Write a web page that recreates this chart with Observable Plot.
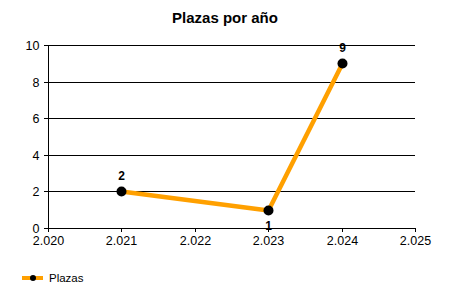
<!DOCTYPE html>
<html>
<head>
<meta charset="utf-8">
<script src="https://cdn.jsdelivr.net/npm/d3@7"></script>
<script src="https://cdn.jsdelivr.net/npm/@observablehq/plot@0.6"></script>
<style>
  html, body { margin: 0; padding: 0; background: #fff; width: 450px; height: 300px; overflow: hidden; font-family: "Liberation Sans", Arial, sans-serif; }
  #title { height: 30px; line-height: 36px; text-align: center; font-weight: bold; font-size: 15px; color: #000; }
  #legend { position: absolute; left: 0; top: 268px; height: 20px; }
</style>
</head>
<body>
<div id="title">Plazas por año</div>
<div id="chart"></div>
<div id="legend"></div>
<script>
const years = [2021, 2023, 2024];
const plazas = [2, 1, 9];
const xTicks = [2020, 2021, 2022, 2023, 2024, 2025];
const xTickLabels = ["2.020", "2.021", "2.022", "2.023", "2.024", "2.025"];
const yTicks = [0, 2, 4, 6, 8, 10];
const seriesName = "Plazas";

const data = years.map((y, i) => ({year: y, value: plazas[i], label: String(plazas[i])}));
const isBelow = (d, i) => i > 0 && i < plazas.length - 1 && d.value < plazas[i - 1] && d.value < plazas[i + 1];
const above = data.filter((d, i) => !isBelow(d, i));
const below = data.filter((d, i) => isBelow(d, i));

const lineColor = "#FFA000";

const chart = Plot.plot({
  width: 450,
  height: 232,
  marginLeft: 48,
  marginRight: 35,
  marginTop: 15,
  marginBottom: 34,
  style: {fontFamily: "'Liberation Sans', Arial, sans-serif", fontSize: "12.5px", color: "#000", background: "#fff", overflow: "visible"},
  x: {domain: [2020, 2025], round: true, label: null},
  y: {domain: [0, 10], round: true, label: null},
  marks: [
    Plot.ruleY(yTicks.filter(t => t > 0), {stroke: "#000", strokeWidth: 1, strokeOpacity: 1}),
    Plot.ruleX([2020], {stroke: "#000", strokeWidth: 1}),
    Plot.ruleY([0], {stroke: "#000", strokeWidth: 1}),
    Plot.axisX({ticks: xTicks, tickFormat: d => xTickLabels[xTicks.indexOf(d)], tickSize: 4, tickPadding: 4, stroke: "#000", strokeOpacity: 1, fill: "#000"}),
    Plot.axisY({ticks: yTicks, tickSize: 4, tickPadding: 5, stroke: "#000", strokeOpacity: 1, fill: "#000"}),
    Plot.line(data, {x: "year", y: "value", stroke: lineColor, strokeWidth: 4.5, strokeLinejoin: "round"}),
    Plot.dot(data, {x: "year", y: "value", r: 5, fill: "#000", stroke: "none"}),
    Plot.text(above, {x: "year", y: "value", text: "label", dy: -15, fontWeight: "bold", fontSize: 12, fill: "#000"}),
    Plot.text(below, {x: "year", y: "value", text: "label", dy: 16, fontWeight: "bold", fontSize: 12, fill: "#000"})
  ]
});
document.getElementById("chart").appendChild(chart);

// Legend
const ns = "http://www.w3.org/2000/svg";
const lg = document.createElementNS(ns, "svg");
lg.setAttribute("width", "120");
lg.setAttribute("height", "20");
const l = document.createElementNS(ns, "line");
l.setAttribute("x1", 22); l.setAttribute("x2", 43); l.setAttribute("y1", 10); l.setAttribute("y2", 10);
l.setAttribute("stroke", lineColor); l.setAttribute("stroke-width", 4);
lg.appendChild(l);
const c = document.createElementNS(ns, "circle");
c.setAttribute("cx", 33); c.setAttribute("cy", 10); c.setAttribute("r", 3); c.setAttribute("fill", "#000");
lg.appendChild(c);
const t = document.createElementNS(ns, "text");
t.setAttribute("x", 49); t.setAttribute("y", 14); t.setAttribute("font-size", "11.5");
t.setAttribute("font-family", "'Liberation Sans', Arial, sans-serif"); t.setAttribute("fill", "#000");
t.textContent = seriesName;
lg.appendChild(t);
document.getElementById("legend").appendChild(lg);
</script>
</body>
</html>
